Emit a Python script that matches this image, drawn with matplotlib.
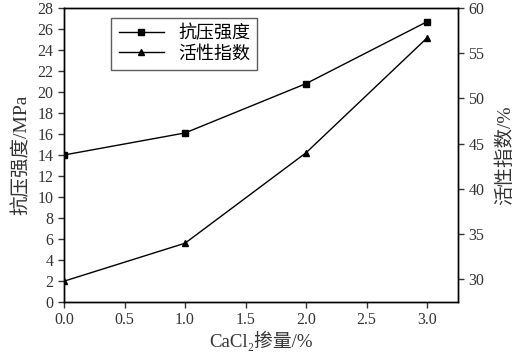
import numpy as np
import matplotlib.pyplot as plt

plt.rcParams['font.family'] = ['Liberation Serif', 'Noto Sans CJK SC']

# 数据
dosage = [0.0, 1.0, 2.0, 3.0]
strength = [14.0, 16.1, 20.8, 26.7]
activity = [29.8, 34.0, 44.0, 56.7]

fig = plt.figure(figsize=(5.18, 3.54), dpi=100)
ax = fig.add_axes([64/518, 1-302/354, (458-64)/518, 294/354])
ax2 = ax.twinx()

l1, = ax.plot(dosage, strength, color='black', lw=1.0, marker='s', ms=4.5, label='抗压强度')
l2, = ax2.plot(dosage, activity, color='black', lw=1.0, marker='^', ms=5, label='活性指数')

ax.set_xlim(0, 3.255)
ax.set_ylim(0, 28)
ax.set_yticks(np.arange(0, 29, 2))
ax.set_xticks(np.arange(0, 3.01, 0.5))
ax.set_xticklabels(['%.1f' % v for v in np.arange(0, 3.01, 0.5)])
ax2.set_ylim(27.5, 60)
ax2.set_yticks(np.arange(30, 61, 5))

for a in (ax, ax2):
    a.tick_params(direction='out', length=4, width=1, labelsize=11.5, colors='#333333')
    for s in a.spines.values():
        s.set_linewidth(1)

ax.set_xlabel('CaCl₂掺量/%', fontsize=13.5, color='#333333', labelpad=2)
ax.set_ylabel('抗压强度/MPa', fontsize=14, color='#333333', labelpad=5)
ax2.set_ylabel('活性指数/%', fontsize=14, color='#333333', rotation=90, labelpad=8)

leg = ax.legend([l1, l2], ['抗压强度', '活性指数'], loc='upper left',
                bbox_to_anchor=(0.12, 0.966), borderaxespad=0, fontsize=13,
                frameon=True, fancybox=False, edgecolor='#333333',
                handlelength=2.5, borderpad=0.4, labelspacing=0.15)
leg.get_frame().set_linewidth(1)

fig.savefig('out.png', dpi=100)
